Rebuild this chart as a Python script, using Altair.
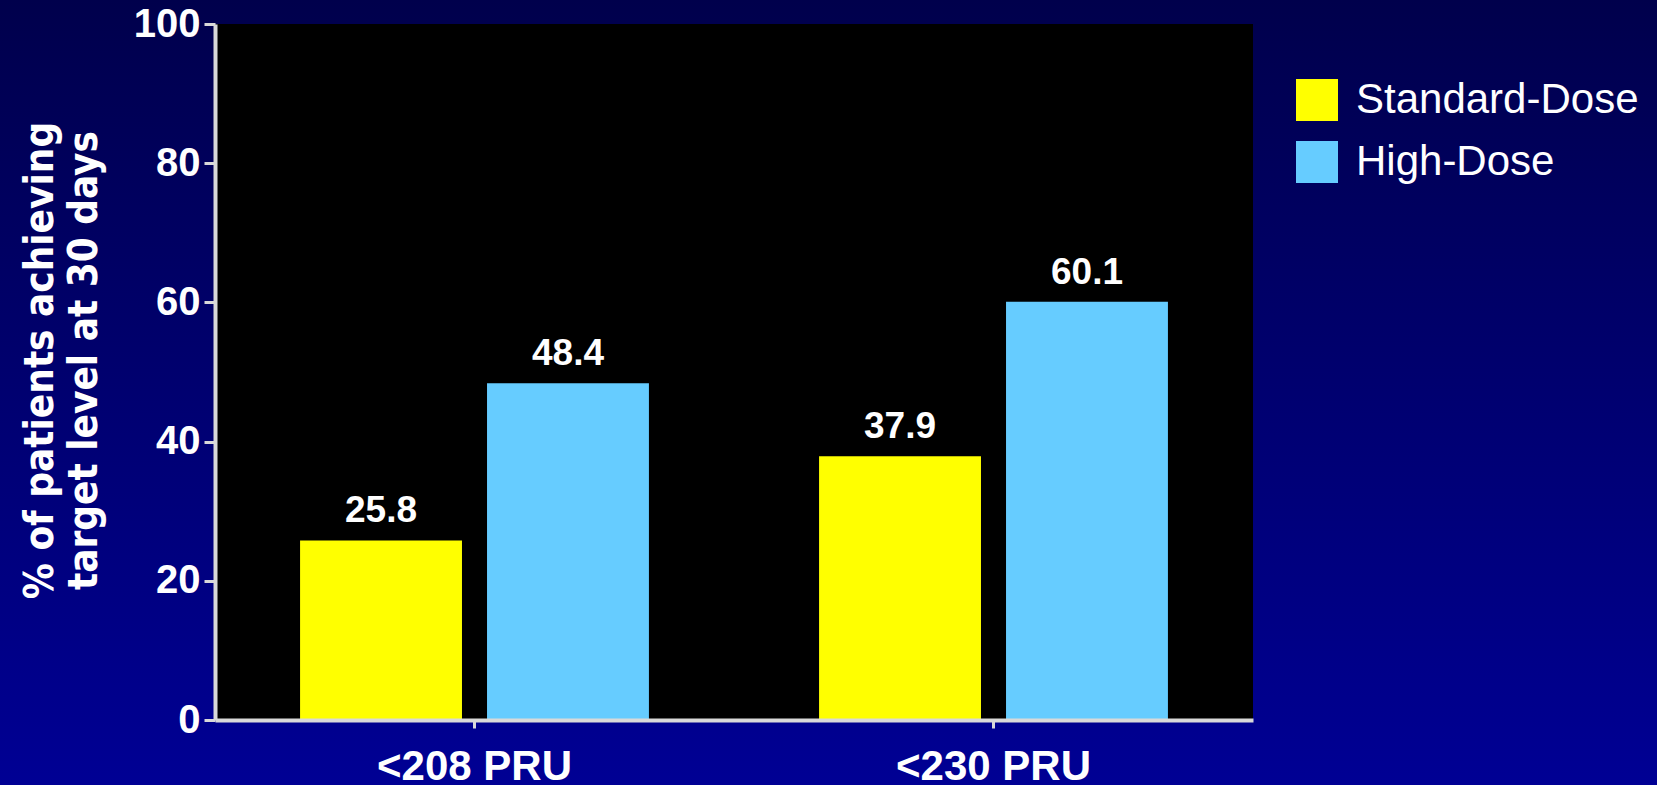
import altair as alt
import pandas as pd

categories = ["<208 PRU", "<208 PRU", "<230 PRU", "<230 PRU"]
groups = ["Standard-Dose", "High-Dose", "Standard-Dose", "High-Dose"]
values = [25.8, 48.4, 37.9, 60.1]
labels = ["25.8", "48.4", "37.9", "60.1"]

group_order = ["Standard-Dose", "High-Dose"]
group_colors = ["#FFFF00", "#66CCFF"]
y_ticks = [0, 20, 40, 60, 80, 100]

df = pd.DataFrame({"cat": categories, "grp": groups, "val": values, "lab": labels})

W, H = 1038, 696
PADL, PADT = 215, 24
NARROW = "Liberation Sans Narrow, DejaVu Sans Condensed, Arial Narrow, sans-serif"
BOLD = "Liberation Sans, Arial, sans-serif"

# background gradient (decoration)
bg = alt.Chart(alt.Data(values=[{}])).mark_rect(
    color=alt.LinearGradient(
        gradient="linear", x1=0, y1=0, x2=0, y2=1,
        stops=[alt.GradientStop(offset=0, color="#00004C"),
               alt.GradientStop(offset=1, color="#000094")],
    )
).encode(
    x=alt.value(-PADL), x2=alt.value(1657 - PADL),
    y=alt.value(-PADT), y2=alt.value(785 - PADT),
)

plotbg = alt.Chart(alt.Data(values=[{}])).mark_rect(color="black").encode(
    x=alt.value(0), x2=alt.value(W), y=alt.value(0), y2=alt.value(H)
)

xenc = alt.X("cat:N", title=None,
             scale=alt.Scale(paddingInner=0, paddingOuter=0),
             axis=alt.Axis(labelAngle=0, labelFont=BOLD, labelFontSize=42,
                           labelFontWeight="bold", labelColor="white",
                           labelLimit=0, labelPadding=18, tickSize=8, tickWidth=3,
                           tickColor="#D9D9D9", domainColor="#D9D9D9",
                           domainWidth=4, zindex=1))
xoff = alt.XOffset("grp:N", sort=group_order,
                   scale=alt.Scale(paddingInner=0.134, paddingOuter=0.455))

bars = alt.Chart(df).mark_bar().encode(
    x=xenc,
    xOffset=xoff,
    y=alt.Y("val:Q",
            scale=alt.Scale(domain=[0, 100], nice=False),
            title=["% of patients achieving", "target level at 30 days"],
            axis=alt.Axis(values=y_ticks, grid=False, labelFont=BOLD,
                          labelFontSize=40, labelFontWeight="bold",
                          labelColor="white", labelPadding=4, tickSize=11,
                          tickWidth=3, tickColor="#D9D9D9",
                          domainColor="#D9D9D9", domainWidth=4,
                          titleFont=NARROW, titleFontSize=40,
                          titleFontWeight="bold", titleColor="white",
                          titleLineHeight=44, titleAngle=270,
                          titleX=-155, titleY=336, titleAlign="center",
                          titleBaseline="bottom", titleLimit=0, zindex=1)),
    color=alt.Color("grp:N", sort=group_order,
                    scale=alt.Scale(domain=group_order, range=group_colors),
                    legend=alt.Legend(title=None, orient="none",
                                      legendX=1081, legendY=55,
                                      symbolType="square", symbolSize=1764,
                                      symbolStrokeWidth=0,
                                      labelFont=BOLD, labelFontSize=42,
                                      labelColor="white", labelOffset=18,
                                      labelLimit=0,
                                      rowPadding=20, padding=0)),
)

text = alt.Chart(df).mark_text(
    font=BOLD, fontSize=37, fontWeight="bold", color="white",
    baseline="bottom", dy=-10,
).encode(x="cat:N", xOffset=alt.XOffset("grp:N", sort=group_order), y="val:Q", text="lab:N")

chart = alt.layer(bg, plotbg, bars, text).properties(
    width=W, height=H,
    autosize=alt.AutoSizeParams(type="none"),
    padding={"left": PADL, "top": PADT, "right": 1657 - PADL - W, "bottom": 785 - PADT - H},
    background="#000070",
).configure_view(stroke=None)

chart.save("out.html", embed_options={"renderer": "svg", "actions": False})
